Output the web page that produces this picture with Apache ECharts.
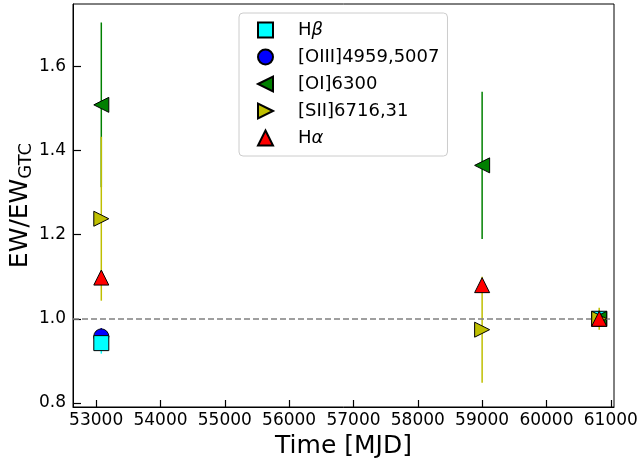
<!DOCTYPE html>
<html>
<head>
<meta charset="utf-8">
<script src="https://cdn.jsdelivr.net/npm/echarts@6/dist/echarts.min.js"></script>
<style>
  html, body { margin: 0; padding: 0; background: #fff; }
  #chart { width: 641px; height: 464px; }
</style>
</head>
<body>
<div id="chart"></div>
<script>
// Observation epochs (MJD)
const epochs = [53080, 59000, 60820];

// Equivalent widths relative to the GTC epoch, with 1-sigma errors
const hbetaVals = [0.942, null, 1.0];
const hbetaErrs = [0.025, null, 0.01];
const oiiiVals  = [0.958, null, 1.0];
const oiiiErrs  = [0.02,  null, 0.01];
const oiVals    = [1.509, 1.365, 1.0];
const oiErrs    = [0.196, 0.175, 0.015];
const siiVals   = [1.238, 0.974, 1.0];
const siiErrs   = [0.195, 0.126, 0.026];
const haVals    = [1.098, 1.08, 1.0];
const haErrs    = [0.015, 0.01, 0.01];

const xTicks = [53000, 54000, 55000, 56000, 57000, 58000, 59000, 60000, 61000];
const yTicks = [0.8, 1.0, 1.2, 1.4, 1.6];

// legend glyphs for the sideways triangles
const triLeft  = 'path://M0,5L10,0L10,10Z';
const triRight = 'path://M10,5L0,0L0,10Z';

const lines = [
  { name: 'Hβ',              vals: hbetaVals, errs: hbetaErrs, color: '#00ffff', symbol: 'rect',     icon: 'rect',     rot: 0,   z: 3 },
  { name: '[OIII]4959,5007', vals: oiiiVals,  errs: oiiiErrs,  color: '#0000ff', symbol: 'circle',   icon: 'circle',   rot: 0,   z: 2 },
  { name: '[OI]6300',        vals: oiVals,    errs: oiErrs,    color: '#008000', symbol: 'triangle', icon: triLeft,    rot: 90,  z: 4 },
  { name: '[SII]6716,31',    vals: siiVals,   errs: siiErrs,   color: '#bfbf00', symbol: 'triangle', icon: triRight,   rot: -90, z: 5 },
  { name: 'Hα',              vals: haVals,    errs: haErrs,    color: '#ff0000', symbol: 'triangle', icon: 'triangle', rot: 0,   z: 6 }
];

function points(vals, errs) {
  const out = [];
  epochs.forEach((x, i) => {
    if (vals[i] !== null) out.push([x, vals[i], errs[i]]);
  });
  return out;
}

const series = [];
// vertical error bars
lines.forEach(l => {
  series.push({
    type: 'custom',
    name: l.name + ' err',
    z: 1,
    data: points(l.vals, l.errs),
    encode: { x: 0, y: 1 },
    renderItem: (params, api) => {
      const x = api.value(0), y = api.value(1), e = api.value(2);
      const p1 = api.coord([x, y - e]);
      const p2 = api.coord([x, y + e]);
      return {
        type: 'line',
        shape: { x1: p1[0], y1: p1[1], x2: p2[0], y2: p2[1] },
        style: { stroke: l.color, lineWidth: 1.5 }
      };
    }
  });
});
// markers
lines.forEach((l, idx) => {
  const s = {
    type: 'scatter',
    name: l.name,
    z: l.z,
    symbol: l.symbol,
    symbolSize: 15,
    symbolRotate: l.rot,
    data: points(l.vals, l.errs).map(p => [p[0], p[1]]),
    itemStyle: { color: l.color, borderColor: '#000', borderWidth: 1, opacity: 1 },
    emphasis: { disabled: true }
  };
  if (idx === 0) {
    s.markLine = {
      silent: true,
      symbol: 'none',
      label: { show: false },
      lineStyle: { color: '#808080', type: [6, 3], width: 1.5 },
      data: [{ yAxis: 1.0 }]
    };
  }
  series.push(s);
});

const chart = echarts.init(document.getElementById('chart'), null, { renderer: 'canvas' });
chart.setOption({
  animation: false,
  textStyle: { fontFamily: 'DejaVu Sans' },
  grid: {
    left: 73, right: 27, top: 4, bottom: 57,
    outerBoundsMode: 'none', containLabel: false,
    show: true, borderColor: '#000', borderWidth: 1, backgroundColor: 'transparent'
  },
  legend: {
    data: lines.map(l => ({ name: l.name, icon: l.icon })),
    orient: 'vertical',
    left: 239,
    top: 13,
    padding: [8, 8, 9, 18],
    itemWidth: 15,
    itemHeight: 15,
    itemGap: 9,
    borderColor: '#cccccc',
    borderWidth: 1,
    borderRadius: 4,
    backgroundColor: '#fff',
    formatter: name => name.replace(/([αβ])/, '{i|$1}'),
    textStyle: {
      fontFamily: 'DejaVu Sans', fontSize: 18, color: '#000', padding: [0, 0, 0, 20],
      rich: { i: { fontFamily: 'DejaVu Sans', fontStyle: 'italic', fontSize: 18, color: '#000' } }
    }
  },
  xAxis: {
    type: 'value',
    min: 52640,
    max: 61050,
    name: 'Time [MJD]',
    nameLocation: 'middle',
    nameGap: 17,
    nameTextStyle: { fontFamily: 'DejaVu Sans', fontSize: 25, color: '#000' },
    splitLine: { show: false },
    axisLine: { show: true, lineStyle: { color: '#000', width: 1 } },
    axisTick: { show: true, inside: true, length: 7, lineStyle: { color: '#000', width: 1.2 }, customValues: xTicks },
    axisLabel: { fontFamily: 'DejaVu Sans', fontSize: 17, color: '#000', margin: 5, customValues: xTicks, formatter: v => String(v) }
  },
  yAxis: {
    type: 'value',
    min: 0.79,
    max: 1.749,
    name: '{m|EW/EW}{s|GTC}',
    nameLocation: 'middle',
    nameRotate: 90,
    nameGap: 38,
    nameMoveOverlap: false,
    nameTextStyle: {
      fontFamily: 'DejaVu Sans', color: '#000',
      rich: {
        m: { fontFamily: 'DejaVu Sans', fontSize: 25, color: '#000', lineHeight: 30 },
        s: { fontFamily: 'DejaVu Sans', fontSize: 18, color: '#000', lineHeight: 30, verticalAlign: 'bottom', padding: [8, 0, 0, 0] }
      }
    },
    splitLine: { show: false },
    axisLine: { show: true, lineStyle: { color: '#000', width: 1 } },
    axisTick: { show: true, inside: true, length: 8, lineStyle: { color: '#000', width: 1.2 }, customValues: yTicks },
    axisLabel: { fontFamily: 'DejaVu Sans', fontSize: 17, color: '#000', margin: 7, customValues: yTicks, formatter: v => v.toFixed(1) }
  },
  series: series
});
</script>
</body>
</html>
